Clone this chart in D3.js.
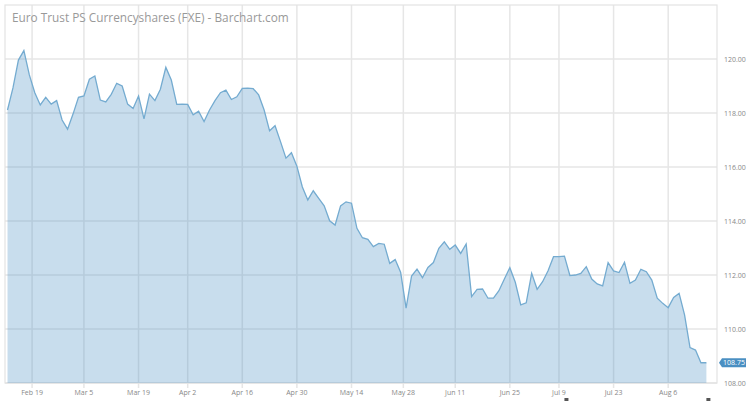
<!DOCTYPE html>
<html>
<head>
    <script src="https://d3js.org/d3.v7.min.js"></script>
</head>

<style>
body {
    margin: 0;
    background: #ffffff;
}
#chart text {
    font-family: "Open Sans", sans-serif;
}
</style>

<body>
<div id="chart"></div>

<script>
    // Daily closes of FXE, one per trading day from Feb 12 to Aug 15
    var startDate = "2018-02-12";
    var holidays = ["2018-02-19", "2018-03-30", "2018-05-28", "2018-07-04"];
    var closes = [
        118.11, 118.93, 119.96, 120.31, 119.41, 118.75, 118.30, 118.58, 118.33, 118.46,
        117.74, 117.40, 117.96, 118.58, 118.63, 119.25, 119.37, 118.48, 118.41, 118.69,
        119.10, 119.00, 118.33, 118.17, 118.63, 117.78, 118.70, 118.46, 118.88, 119.69,
        119.22, 118.32, 118.33, 118.32, 117.93, 118.07, 117.68, 118.11, 118.46, 118.75,
        118.85, 118.50, 118.60, 118.91, 118.92, 118.90, 118.67, 118.11, 117.34, 117.53,
        116.94, 116.33, 116.53, 116.03, 115.26, 114.78, 115.12, 114.84, 114.56, 114.01,
        113.85, 114.56, 114.71, 114.66, 113.73, 113.38, 113.32, 113.05, 113.17, 113.14,
        112.43, 112.57, 112.10, 110.77, 111.96, 112.22, 111.90, 112.28, 112.46, 112.99,
        113.23, 112.95, 113.11, 112.80, 113.15, 111.20, 111.47, 111.48, 111.14, 111.14,
        111.42, 111.85, 112.27, 111.73, 110.89, 110.97, 112.06, 111.47, 111.75, 112.16,
        112.68, 112.68, 112.70, 111.98, 112.00, 112.06, 112.31, 111.85, 111.67, 111.60,
        112.46, 112.15, 112.09, 112.47, 111.69, 111.81, 112.21, 112.12, 111.81, 111.14,
        110.95, 110.79, 111.17, 111.32, 110.52, 109.31, 109.22, 108.75, 108.75
    ];
    // Axis ticks
    var tickDates = ["2018-02-19", "2018-03-05", "2018-03-19", "2018-04-02", "2018-04-16",
        "2018-04-30", "2018-05-14", "2018-05-28", "2018-06-11", "2018-06-25",
        "2018-07-09", "2018-07-23", "2018-08-06"];
    var yTicks = [108, 110, 112, 114, 116, 118, 120];
    var title = "Euro Trust PS Currencyshares (FXE) - Barchart.com";

    var width = 750, height = 401;
    var plot = {left: 5, top: 5, right: 717, bottom: 383};

    var parse = d3.timeParse("%Y-%m-%d");
    var fmt = d3.timeFormat("%Y-%m-%d");

    // Building the trading calendar (weekdays minus exchange holidays)
    var dates = [];
    var d = parse(startDate);
    while (dates.length < closes.length) {
        var wd = d.getDay();
        if (wd !== 0 && wd !== 6 && holidays.indexOf(fmt(d)) < 0) dates.push(fmt(d));
        d = d3.timeDay.offset(d, 1);
    }
    var data = closes.map((v, i) => ({i: i, date: dates[i], value: v}));

    // Tick position in trading-day units (holidays sit between the two sessions)
    function tickIndex(s) {
        var k = dates.indexOf(s);
        if (k >= 0) return k;
        return d3.bisectLeft(dates, s) - 0.5;
    }

    var x = d3.scaleLinear()
        .domain([0, closes.length - 1])
        .range([7.5, 706.4]);
    var y = d3.scaleLinear()
        .domain([108, 122])
        .range([plot.bottom, plot.top]);

    var svg = d3.select("#chart")
        .append("svg")
        .attr("width", width)
        .attr("height", height);

    // Grid
    var grid = svg.append("g");
    grid.selectAll("line.h")
        .data(yTicks)
        .enter().append("line")
        .attr("x1", plot.left).attr("x2", plot.right)
        .attr("y1", v => y(v)).attr("y2", v => y(v))
        .style("stroke", "#e6e6e6")
        .style("stroke-width", 1.5);
    grid.selectAll("line.v")
        .data(tickDates)
        .enter().append("line")
        .attr("x1", s => x(tickIndex(s))).attr("x2", s => x(tickIndex(s)))
        .attr("y1", plot.top).attr("y2", plot.bottom + 5)
        .style("stroke", "#e6e6e6")
        .style("stroke-width", 1.5);

    // Frame
    svg.append("rect")
        .attr("x", plot.left).attr("y", plot.top)
        .attr("width", plot.right - plot.left)
        .attr("height", plot.bottom - plot.top)
        .style("fill", "none")
        .style("stroke", "#e3e3e3")
        .style("stroke-width", 1.2);

    // Area + line
    var area = d3.area()
        .x(p => x(p.i))
        .y0(plot.bottom)
        .y1(p => y(p.value));
    var line = d3.line()
        .x(p => x(p.i))
        .y(p => y(p.value));

    svg.append("path")
        .datum(data)
        .attr("d", area)
        .style("fill", "#4a90c2")
        .style("fill-opacity", 0.3);
    svg.append("path")
        .datum(data)
        .attr("d", line)
        .style("fill", "none")
        .style("stroke", "#74abd0")
        .style("stroke-width", 1.3);

    // Title
    svg.append("text")
        .attr("x", 12)
        .attr("y", 22)
        .attr("font-size", "11.8px")
        .attr("fill", "#999999")
        .text(title);

    // Right axis
    var yAxis = d3.axisRight(y)
        .tickValues(yTicks)
        .tickSize(0)
        .tickPadding(7)
        .tickFormat(d3.format(".2f"));
    var gy = svg.append("g")
        .attr("transform", "translate(" + plot.right + ",0)")
        .call(yAxis);
    gy.select(".domain").remove();
    gy.selectAll("text")
        .attr("font-size", "7px")
        .attr("fill", "#888888");

    // Bottom labels
    var bottomFmt = d3.timeFormat("%b %-d");
    svg.append("g").selectAll("text")
        .data(tickDates)
        .enter().append("text")
        .attr("x", s => x(tickIndex(s)))
        .attr("y", 394.5)
        .attr("text-anchor", "middle")
        .attr("font-size", "7px")
        .attr("fill", "#888888")
        .text(s => bottomFmt(parse(s)));

    // Last value marker
    var last = data[data.length - 1];
    var ly = y(last.value);
    var bx = plot.right + 4;
    svg.append("path")
        .attr("d", "M" + (bx - 2) + "," + ly +
            "L" + (bx + 1) + "," + (ly - 4.5) +
            "H" + (bx + 25) + "V" + (ly + 4.5) +
            "H" + (bx + 1) + "Z")
        .style("fill", "#4a8fc2");
    svg.append("text")
        .attr("x", bx + 13)
        .attr("y", ly + 2.5)
        .attr("text-anchor", "middle")
        .attr("font-size", "7px")
        .attr("fill", "#ffffff")
        .text(last.value.toFixed(2));

    // Navigator handles peeking at the bottom edge
    svg.selectAll("rect.handle")
        .data([102, closes.length - 1])
        .enter().append("rect")
        .attr("x", i => x(i))
        .attr("y", 398)
        .attr("width", 4)
        .attr("height", 3)
        .style("fill", "#555555");
</script>
</body>
</html>
